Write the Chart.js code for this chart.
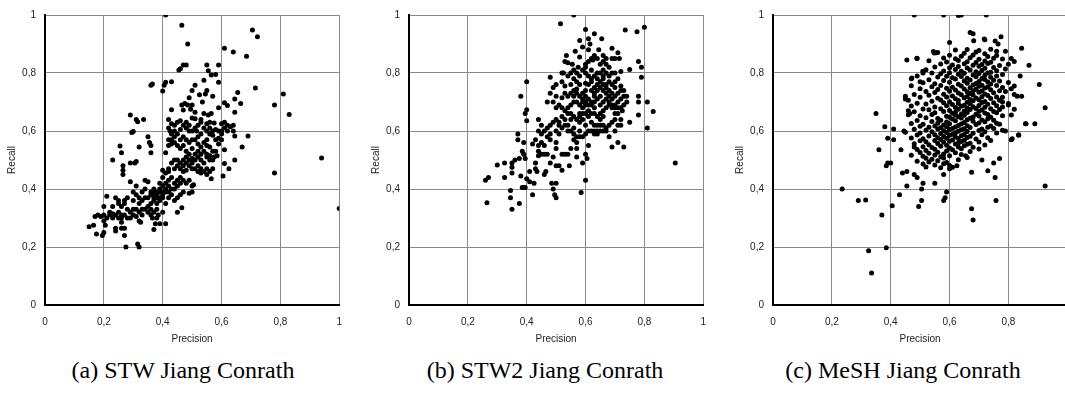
<!DOCTYPE html>
<html>
<head>
<meta charset="utf-8">
<script src="https://cdn.jsdelivr.net/npm/chart.js@4/dist/chart.umd.min.js"></script>
<style>
  html, body { margin: 0; padding: 0; background: #fff; width: 1065px; height: 398px; overflow: hidden; }
  .panel { position: absolute; top: 0; width: 353px; height: 345px; }
  .caption {
    position: absolute; top: 358px; width: 400px; text-align: center; line-height: 1;
    font-family: "Liberation Serif", "Times New Roman", serif; font-size: 24px; color: #000;
    white-space: nowrap;
  }
</style>
</head>
<body>
<div class="panel" style="left:0px"><canvas id="stwChart" width="353" height="345"></canvas></div>
<div class="panel" style="left:364px"><canvas id="stw2Chart" width="353" height="345"></canvas></div>
<div class="panel" style="left:728px"><canvas id="meshChart" width="353" height="345"></canvas></div>
<div class="caption" style="left:-17px">(a)&nbsp;STW Jiang Conrath</div>
<div class="caption" style="left:345px">(b)&nbsp;STW2 Jiang Conrath</div>
<div class="caption" style="left:703px">(c)&nbsp;MeSH Jiang Conrath</div>
<script>
// axis ticks (precision on x, recall on y)
const tickValues = [0, 0.2, 0.4, 0.6, 0.8, 1];
const xTitle = 'Precision';
const yTitle = 'Recall';

// (a) STW Jiang Conrath  -- [precision, recall]
const stwPoints = [
  [0.41,1.0],[0.465,0.965],[0.485,0.9],[0.705,0.948],[0.722,0.925],[0.61,0.885],[0.64,0.872],[0.685,0.858],
  [0.455,0.81],[0.46,0.815],[0.47,0.828],[0.48,0.828],[0.55,0.828],[0.59,0.828],[0.555,0.808],[0.565,0.793],
  [0.58,0.795],[0.59,0.768],[0.54,0.775],[0.51,0.758],[0.43,0.77],[0.41,0.768],[0.405,0.758],[0.4,0.738],
  [0.36,0.758],[0.365,0.762],[0.715,0.748],[0.81,0.728],[0.78,0.69],[0.83,0.657],[0.655,0.733],[0.645,0.71],
  [0.665,0.695],[0.61,0.697],[0.62,0.688],[0.645,0.665],[0.59,0.68],[0.57,0.72],[0.55,0.74],[0.545,0.728],
  [0.525,0.725],[0.5,0.74],[0.49,0.715],[0.465,0.69],[0.475,0.695],[0.485,0.69],[0.5,0.69],[0.47,0.672],
  [0.495,0.675],[0.51,0.665],[0.535,0.7],[0.43,0.673],[0.29,0.655],[0.31,0.64],[0.315,0.632],[0.335,0.64],
  [0.54,0.66],[0.555,0.655],[0.565,0.66],[0.5,0.645],[0.51,0.642],[0.52,0.62],[0.53,0.64],[0.55,0.625],
  [0.56,0.63],[0.575,0.628],[0.58,0.605],[0.6,0.625],[0.61,0.63],[0.62,0.62],[0.63,0.615],[0.64,0.62],
  [0.64,0.6],[0.645,0.583],[0.69,0.583],[0.42,0.64],[0.43,0.625],[0.44,0.62],[0.45,0.63],[0.46,0.635],
  [0.42,0.61],[0.425,0.6],[0.44,0.6],[0.46,0.605],[0.48,0.61],[0.49,0.6],[0.5,0.6],[0.515,0.6],
  [0.54,0.61],[0.56,0.59],[0.57,0.585],[0.59,0.6],[0.6,0.59],[0.3,0.598],[0.295,0.595],[0.35,0.58],
  [0.355,0.56],[0.36,0.55],[0.255,0.548],[0.32,0.545],[0.26,0.525],[0.36,0.525],[0.41,0.525],[0.42,0.55],
  [0.43,0.555],[0.44,0.56],[0.43,0.57],[0.45,0.55],[0.46,0.54],[0.47,0.55],[0.48,0.53],[0.5,0.54],
  [0.52,0.555],[0.53,0.545],[0.55,0.55],[0.56,0.545],[0.57,0.53],[0.59,0.555],[0.59,0.575],[0.67,0.545],
  [0.61,0.535],[0.23,0.5],[0.265,0.48],[0.265,0.465],[0.265,0.45],[0.29,0.49],[0.31,0.495],[0.305,0.49],
  [0.47,0.5],[0.48,0.51],[0.49,0.52],[0.5,0.505],[0.51,0.5],[0.52,0.51],[0.53,0.5],[0.54,0.49],
  [0.55,0.51],[0.56,0.515],[0.575,0.51],[0.585,0.515],[0.645,0.5],[0.625,0.47],[0.61,0.488],[0.605,0.445],
  [0.565,0.435],[0.55,0.45],[0.55,0.47],[0.53,0.455],[0.52,0.48],[0.5,0.47],[0.49,0.48],[0.48,0.465],
  [0.47,0.46],[0.46,0.47],[0.45,0.48],[0.44,0.47],[0.42,0.46],[0.41,0.455],[0.4,0.465],[0.4,0.44],
  [0.42,0.43],[0.43,0.44],[0.44,0.42],[0.45,0.43],[0.46,0.44],[0.47,0.43],[0.48,0.42],[0.49,0.43],
  [0.5,0.41],[0.505,0.415],[0.5,0.39],[0.49,0.385],[0.47,0.39],[0.46,0.38],[0.45,0.37],[0.44,0.36],
  [0.45,0.32],[0.465,0.335],[0.43,0.38],[0.42,0.39],[0.41,0.4],[0.4,0.39],[0.39,0.4],[0.38,0.38],
  [0.37,0.385],[0.36,0.38],[0.35,0.37],[0.34,0.37],[0.33,0.36],[0.32,0.35],[0.34,0.43],[0.35,0.425],
  [0.29,0.425],[0.3,0.39],[0.31,0.38],[0.28,0.37],[0.27,0.36],[0.26,0.34],[0.25,0.36],[0.24,0.37],
  [0.21,0.375],[0.2,0.34],[0.22,0.32],[0.23,0.315],[0.24,0.31],[0.25,0.32],[0.26,0.31],[0.2,0.31],
  [0.19,0.305],[0.18,0.31],[0.17,0.305],[0.165,0.275],[0.15,0.27],[0.175,0.245],[0.195,0.24],[0.2,0.25],
  [0.205,0.275],[0.24,0.265],[0.24,0.255],[0.26,0.265],[0.27,0.265],[0.27,0.24],[0.275,0.2],[0.315,0.21],
  [0.32,0.2],[0.26,0.285],[0.28,0.3],[0.29,0.32],[0.3,0.33],[0.31,0.305],[0.32,0.29],[0.325,0.285],
  [0.33,0.31],[0.34,0.33],[0.35,0.32],[0.36,0.31],[0.365,0.3],[0.37,0.26],[0.375,0.28],[0.38,0.3],
  [0.385,0.31],[0.39,0.28],[0.4,0.32],[0.41,0.28],[0.41,0.35],[0.42,0.37],[0.38,0.35],[0.37,0.36],
  [0.36,0.35],[0.39,0.37],[0.4,0.37],[0.4,0.41],[0.41,0.42],[0.39,0.42],[0.38,0.39],[0.37,0.4],
  [0.94,0.507],[0.78,0.455],[1.0,0.333],
  [0.36,0.39],[0.37,0.37],[0.38,0.37],[0.39,0.39],[0.4,0.38],[0.41,0.39],[0.42,0.41],[0.43,0.4],
  [0.44,0.4],[0.45,0.41],[0.46,0.42],[0.39,0.36],[0.38,0.33],[0.37,0.32],[0.36,0.33],[0.35,0.34],
  [0.33,0.33],[0.32,0.32],[0.31,0.33],[0.3,0.31],[0.29,0.3],[0.28,0.33],[0.27,0.31],[0.26,0.3],
  [0.25,0.3],[0.23,0.3],[0.22,0.31],[0.21,0.3],[0.2,0.29],[0.23,0.34],[0.25,0.35],[0.27,0.35],
  [0.3,0.36],[0.32,0.37],[0.33,0.39],[0.34,0.4],[0.31,0.41],[0.42,0.47],[0.43,0.49],[0.44,0.5],
  [0.45,0.5],[0.46,0.49],[0.47,0.48],[0.48,0.49],[0.49,0.5],[0.5,0.49],[0.51,0.52],[0.52,0.53],
  [0.53,0.52],[0.54,0.53],[0.55,0.52],[0.56,0.5],[0.57,0.5],[0.58,0.53],[0.58,0.57],[0.57,0.6],
  [0.56,0.61],[0.53,0.59],[0.52,0.58],[0.51,0.57],[0.5,0.57],[0.49,0.56],[0.48,0.57],[0.47,0.58],
  [0.46,0.57],[0.45,0.59],[0.44,0.58],[0.43,0.59],[0.42,0.57],[0.47,0.62],[0.48,0.63],[0.49,0.62],
  [0.51,0.61],[0.53,0.63],[0.55,0.6],[0.6,0.6],[0.61,0.61],[0.6,0.57],[0.62,0.6],[0.55,0.57],
  [0.54,0.56],[0.51,0.47],[0.52,0.46],[0.53,0.47],[0.54,0.46],[0.56,0.46],[0.57,0.47]
];

// (b) STW2 Jiang Conrath
const stw2Points = [
  [0.56,1.0],[0.515,0.97],[0.6,0.95],[0.8,0.958],[0.735,0.948],[0.775,0.942],[0.63,0.935],[0.655,0.918],
  [0.61,0.918],[0.615,0.9],[0.58,0.912],[0.59,0.89],[0.61,0.88],[0.645,0.88],[0.66,0.86],[0.69,0.885],
  [0.71,0.87],[0.7,0.85],[0.715,0.85],[0.78,0.84],[0.79,0.82],[0.75,0.812],[0.69,0.85],[0.64,0.85],
  [0.625,0.845],[0.6,0.83],[0.58,0.855],[0.565,0.875],[0.535,0.86],[0.53,0.84],[0.54,0.835],[0.555,0.83],
  [0.575,0.82],[0.6,0.82],[0.62,0.81],[0.64,0.8],[0.66,0.81],[0.67,0.83],[0.68,0.82],[0.69,0.8],
  [0.7,0.8],[0.72,0.805],[0.79,0.785],[0.52,0.8],[0.525,0.8],[0.48,0.785],[0.5,0.76],[0.49,0.75],
  [0.52,0.77],[0.53,0.755],[0.55,0.76],[0.56,0.78],[0.57,0.77],[0.58,0.76],[0.6,0.765],[0.61,0.76],
  [0.62,0.77],[0.63,0.75],[0.64,0.76],[0.65,0.77],[0.66,0.78],[0.67,0.76],[0.68,0.77],[0.69,0.76],
  [0.7,0.75],[0.72,0.755],[0.73,0.72],[0.74,0.7],[0.78,0.72],[0.78,0.7],[0.81,0.7],[0.83,0.667],
  [0.78,0.655],[0.81,0.61],[0.75,0.63],[0.73,0.545],[0.71,0.56],[0.69,0.545],[0.7,0.6],[0.72,0.64],
  [0.725,0.67],[0.71,0.68],[0.7,0.69],[0.69,0.71],[0.68,0.72],[0.67,0.73],[0.66,0.74],[0.65,0.72],
  [0.64,0.71],[0.63,0.72],[0.62,0.7],[0.61,0.71],[0.6,0.72],[0.59,0.7],[0.58,0.69],[0.57,0.7],
  [0.56,0.72],[0.55,0.73],[0.54,0.72],[0.53,0.73],[0.52,0.715],[0.5,0.72],[0.49,0.7],[0.47,0.7],
  [0.48,0.73],[0.38,0.72],[0.4,0.77],[0.4,0.673],[0.395,0.66],[0.4,0.635],[0.37,0.59],[0.37,0.57],
  [0.39,0.56],[0.385,0.53],[0.39,0.52],[0.395,0.505],[0.375,0.505],[0.36,0.5],[0.35,0.49],[0.35,0.475],
  [0.35,0.455],[0.325,0.49],[0.3,0.483],[0.325,0.44],[0.27,0.44],[0.26,0.43],[0.265,0.353],[0.345,0.395],
  [0.345,0.37],[0.35,0.33],[0.375,0.35],[0.39,0.405],[0.395,0.405],[0.385,0.405],[0.38,0.445],[0.4,0.435],
  [0.41,0.425],[0.41,0.46],[0.42,0.38],[0.425,0.42],[0.43,0.47],[0.435,0.46],[0.43,0.49],[0.44,0.515],
  [0.44,0.53],[0.42,0.555],[0.43,0.57],[0.44,0.6],[0.44,0.64],[0.45,0.62],[0.45,0.56],[0.46,0.55],
  [0.46,0.45],[0.465,0.46],[0.47,0.52],[0.47,0.58],[0.48,0.59],[0.48,0.57],[0.48,0.49],[0.485,0.42],
  [0.49,0.4],[0.5,0.42],[0.495,0.38],[0.5,0.37],[0.49,0.51],[0.5,0.48],[0.51,0.48],[0.52,0.465],
  [0.53,0.52],[0.5,0.54],[0.5,0.56],[0.51,0.59],[0.5,0.6],[0.49,0.63],[0.5,0.64],[0.51,0.63],
  [0.52,0.65],[0.53,0.64],[0.54,0.66],[0.54,0.62],[0.55,0.64],[0.55,0.6],[0.56,0.61],[0.56,0.57],
  [0.57,0.56],[0.58,0.6],[0.58,0.63],[0.59,0.64],[0.6,0.62],[0.6,0.66],[0.61,0.65],[0.62,0.66],
  [0.62,0.63],[0.63,0.62],[0.64,0.6],[0.64,0.59],[0.65,0.6],[0.66,0.62],[0.67,0.61],[0.68,0.58],
  [0.67,0.6],[0.63,0.59],[0.61,0.55],[0.605,0.505],[0.6,0.52],[0.59,0.49],[0.57,0.51],[0.6,0.43],
  [0.585,0.388],[0.545,0.48],[0.54,0.52],[0.52,0.52],[0.905,0.49],[0.55,0.54],[0.57,0.54],[0.58,0.66],
  [0.59,0.68],[0.6,0.69],[0.61,0.67],[0.63,0.68],[0.65,0.66],[0.66,0.67],[0.67,0.68],[0.68,0.69],
  [0.69,0.68],[0.7,0.66],[0.71,0.7],[0.72,0.71],[0.66,0.65],[0.65,0.64],[0.64,0.65],[0.63,0.66],
  [0.6,0.74],[0.59,0.73],[0.57,0.745],[0.56,0.74],[0.45,0.59],[0.46,0.6],[0.47,0.61],[0.48,0.62],
  [0.46,0.52],[0.45,0.52],[0.44,0.55],
  [0.62,0.74],[0.63,0.73],[0.64,0.74],[0.65,0.75],[0.66,0.76],[0.67,0.75],[0.68,0.74],[0.69,0.73],
  [0.7,0.72],[0.71,0.73],[0.72,0.74],[0.73,0.74],[0.7,0.77],[0.71,0.78],[0.68,0.79],[0.67,0.8],
  [0.66,0.79],[0.65,0.8],[0.64,0.78],[0.63,0.79],[0.62,0.78],[0.61,0.79],[0.6,0.8],[0.59,0.81],
  [0.58,0.79],[0.57,0.8],[0.56,0.81],[0.55,0.8],[0.54,0.79],[0.65,0.83],[0.66,0.84],[0.67,0.85],
  [0.63,0.86],[0.62,0.85],[0.61,0.84],[0.65,0.69],[0.66,0.7],[0.67,0.71],[0.68,0.7],[0.69,0.69],
  [0.7,0.68],[0.71,0.66],[0.72,0.68],[0.73,0.69],[0.74,0.72],[0.63,0.7],[0.62,0.69],[0.61,0.69],
  [0.6,0.7],[0.59,0.71],[0.58,0.72],[0.57,0.73],[0.56,0.7],[0.55,0.69],[0.54,0.68],[0.53,0.67],
  [0.52,0.68],[0.51,0.69],[0.5,0.68],[0.55,0.66],[0.56,0.65],[0.57,0.64],[0.58,0.65],[0.59,0.66],
  [0.53,0.62],[0.52,0.61],[0.51,0.62],[0.54,0.6],[0.56,0.59],[0.57,0.58],[0.58,0.58],[0.59,0.58],
  [0.6,0.59],[0.61,0.6],[0.62,0.6],[0.63,0.6],[0.64,0.62],[0.65,0.62],[0.66,0.6],[0.68,0.62],
  [0.69,0.63],[0.7,0.64],[0.71,0.62],[0.72,0.62]
];

// (c) MeSH Jiang Conrath
const meshPoints = [
  [0.48,1.0],[0.58,1.0],[0.63,0.998],[0.64,1.0],[0.725,1.0],[0.235,0.4],[0.29,0.36],[0.315,0.362],
  [0.325,0.187],[0.335,0.11],[0.37,0.31],[0.385,0.197],[0.35,0.66],[0.36,0.535],[0.38,0.615],[0.385,0.48],
  [0.39,0.575],[0.39,0.49],[0.4,0.49],[0.405,0.342],[0.41,0.57],[0.41,0.607],[0.43,0.38],[0.435,0.535],
  [0.44,0.455],[0.445,0.6],[0.45,0.72],[0.45,0.71],[0.455,0.41],[0.455,0.46],[0.455,0.845],[0.46,0.67],
  [0.465,0.66],[0.47,0.78],[0.48,0.545],[0.48,0.45],[0.49,0.44],[0.495,0.34],[0.49,0.85],[0.5,0.77],
  [0.505,0.4],[0.505,0.36],[0.51,0.42],[0.51,0.8],[0.55,0.42],[0.555,0.87],[0.58,0.36],[0.58,0.45],
  [0.585,0.37],[0.59,0.39],[0.6,0.905],[0.6,0.47],[0.61,0.475],[0.625,0.48],[0.655,0.515],[0.675,0.458],
  [0.675,0.332],[0.68,0.293],[0.71,0.5],[0.73,0.463],[0.75,0.49],[0.755,0.44],[0.758,0.36],[0.77,0.505],
  [0.67,0.94],[0.68,0.935],[0.72,0.915],[0.755,0.91],[0.775,0.925],[0.765,0.9],[0.845,0.885],[0.87,0.827],
  [0.905,0.76],[0.925,0.68],[0.89,0.625],[0.86,0.625],[0.925,0.41],[0.81,0.57],[0.835,0.585],[0.84,0.79],
  [0.82,0.755],[0.845,0.72],[0.83,0.72],[0.82,0.675],[0.81,0.655],[0.79,0.6],[0.8,0.695],[0.78,0.7],
  [0.8,0.83],[0.82,0.84],[0.81,0.85],[0.79,0.875],[0.76,0.875],[0.545,0.874],[0.548,0.869],[0.489,0.851],
  [0.509,0.806],[0.472,0.783],[0.682,0.911],[0.718,0.917],[0.858,0.625],[0.835,0.587],[0.813,0.573],
  [0.66,0.881],[0.7,0.878],[0.74,0.882],[0.62,0.879],
  [0.56,0.871],[0.65,0.868],[0.72,0.866],[0.69,0.872],
  [0.6,0.861],[0.64,0.858],[0.68,0.862],[0.73,0.857],[0.76,0.86],
  [0.58,0.852],[0.62,0.849],[0.67,0.853],[0.7,0.847],[0.75,0.851],[0.78,0.848],
  [0.53,0.842],[0.59,0.838],[0.63,0.843],[0.66,0.839],[0.69,0.836],[0.72,0.841],[0.74,0.837],
  [0.57,0.831],[0.61,0.828],[0.65,0.832],[0.68,0.827],[0.71,0.829],[0.73,0.833],[0.77,0.826],
  [0.55,0.821],[0.6,0.818],[0.63,0.822],[0.66,0.817],[0.7,0.823],[0.72,0.816],[0.75,0.819],[0.79,0.814],
  [0.52,0.811],[0.58,0.807],[0.62,0.812],[0.64,0.806],[0.67,0.81],[0.69,0.804],[0.71,0.809],[0.74,0.803],[0.76,0.808],
  [0.54,0.8],[0.57,0.797],[0.6,0.801],[0.63,0.796],[0.65,0.799],[0.68,0.793],[0.7,0.798],[0.72,0.792],[0.73,0.8],[0.78,0.795],
  [0.49,0.79],[0.56,0.786],[0.59,0.789],[0.61,0.784],[0.64,0.788],[0.66,0.782],[0.69,0.787],[0.71,0.781],[0.74,0.785],[0.76,0.79],
  [0.53,0.777],[0.58,0.774],[0.62,0.779],[0.65,0.772],[0.67,0.776],[0.7,0.771],[0.72,0.778],[0.73,0.769],[0.75,0.775],[0.77,0.772],
  [0.51,0.766],[0.55,0.763],[0.6,0.768],[0.63,0.761],[0.66,0.765],[0.68,0.759],[0.69,0.764],[0.71,0.758],[0.74,0.762],[0.8,0.767],
  [0.47,0.756],[0.54,0.753],[0.57,0.757],[0.61,0.751],[0.64,0.755],[0.67,0.749],[0.7,0.754],[0.72,0.748],[0.73,0.752],[0.76,0.757],[0.78,0.75],
  [0.5,0.746],[0.56,0.743],[0.59,0.747],[0.62,0.741],[0.65,0.745],[0.68,0.739],[0.69,0.744],[0.71,0.738],[0.74,0.742],[0.77,0.739],[0.81,0.746],
  [0.52,0.736],[0.55,0.733],[0.6,0.737],[0.63,0.731],[0.66,0.735],[0.67,0.729],[0.7,0.734],[0.72,0.728],[0.75,0.732],[0.79,0.736],
  [0.48,0.726],[0.53,0.723],[0.58,0.727],[0.61,0.721],[0.64,0.725],[0.66,0.719],[0.68,0.724],[0.71,0.718],[0.73,0.722],[0.76,0.717],[0.82,0.726],
  [0.5,0.716],[0.56,0.713],[0.59,0.717],[0.62,0.711],[0.65,0.715],[0.67,0.709],[0.69,0.714],[0.7,0.708],[0.74,0.712],[0.78,0.716],
  [0.46,0.706],[0.54,0.703],[0.57,0.707],[0.6,0.701],[0.63,0.705],[0.66,0.699],[0.68,0.704],[0.71,0.698],[0.72,0.702],[0.75,0.697],[0.77,0.706],
  [0.49,0.696],[0.52,0.693],[0.58,0.697],[0.61,0.691],[0.63,0.695],[0.65,0.689],[0.67,0.694],[0.7,0.688],[0.73,0.692],[0.76,0.687],[0.8,0.69],
  [0.47,0.686],[0.55,0.683],[0.59,0.687],[0.62,0.681],[0.64,0.685],[0.66,0.679],[0.68,0.684],[0.69,0.678],[0.72,0.682],[0.74,0.677],[0.78,0.683],
  [0.51,0.676],[0.53,0.673],[0.57,0.677],[0.6,0.671],[0.63,0.675],[0.65,0.669],[0.67,0.674],[0.7,0.668],[0.71,0.672],[0.75,0.667],[0.77,0.674],
  [0.48,0.666],[0.55,0.663],[0.58,0.667],[0.61,0.661],[0.62,0.665],[0.64,0.659],[0.66,0.664],[0.69,0.658],[0.72,0.662],[0.73,0.657],[0.76,0.663],
  [0.46,0.656],[0.5,0.653],[0.54,0.657],[0.59,0.651],[0.62,0.655],[0.63,0.649],[0.65,0.654],[0.68,0.648],[0.7,0.652],[0.74,0.647],[0.78,0.653],
  [0.52,0.646],[0.56,0.643],[0.6,0.647],[0.61,0.641],[0.64,0.645],[0.66,0.639],[0.67,0.644],[0.71,0.638],[0.73,0.642],[0.75,0.637],
  [0.49,0.636],[0.54,0.633],[0.57,0.637],[0.59,0.631],[0.62,0.635],[0.65,0.629],[0.68,0.634],[0.7,0.628],[0.72,0.632],[0.76,0.627],
  [0.47,0.626],[0.51,0.623],[0.56,0.627],[0.58,0.621],[0.6,0.625],[0.63,0.619],[0.64,0.624],[0.66,0.618],[0.69,0.622],[0.74,0.617],[0.77,0.623],
  [0.5,0.616],[0.53,0.613],[0.55,0.617],[0.57,0.611],[0.59,0.615],[0.61,0.609],[0.62,0.614],[0.65,0.608],[0.67,0.612],[0.71,0.607],[0.73,0.613],[0.75,0.609],
  [0.48,0.606],[0.52,0.603],[0.56,0.607],[0.58,0.601],[0.6,0.605],[0.63,0.599],[0.64,0.604],[0.66,0.598],[0.7,0.602],[0.72,0.597],[0.78,0.603],
  [0.45,0.596],[0.5,0.593],[0.54,0.597],[0.57,0.591],[0.59,0.595],[0.61,0.589],[0.62,0.594],[0.65,0.588],[0.68,0.592],[0.71,0.587],[0.76,0.593],
  [0.49,0.586],[0.53,0.583],[0.55,0.587],[0.58,0.581],[0.6,0.585],[0.62,0.579],[0.64,0.584],[0.66,0.578],[0.67,0.582],[0.73,0.577],
  [0.47,0.576],[0.51,0.573],[0.56,0.577],[0.57,0.571],[0.59,0.575],[0.61,0.569],[0.63,0.574],[0.65,0.568],[0.69,0.572],[0.74,0.567],
  [0.5,0.566],[0.52,0.563],[0.55,0.567],[0.58,0.561],[0.6,0.565],[0.63,0.559],[0.64,0.564],[0.67,0.558],[0.7,0.562],
  [0.48,0.556],[0.53,0.553],[0.56,0.557],[0.59,0.551],[0.62,0.555],[0.65,0.549],[0.66,0.554],[0.72,0.552],
  [0.51,0.546],[0.54,0.543],[0.57,0.547],[0.6,0.541],[0.63,0.545],[0.64,0.539],[0.68,0.544],
  [0.49,0.536],[0.52,0.533],[0.55,0.537],[0.59,0.531],[0.61,0.535],[0.67,0.529],[0.7,0.538],
  [0.5,0.526],[0.53,0.523],[0.56,0.527],[0.58,0.521],[0.62,0.525],[0.64,0.519],
  [0.47,0.516],[0.51,0.513],[0.55,0.517],[0.57,0.511],[0.6,0.515],[0.66,0.509],
  [0.52,0.506],[0.54,0.503],[0.58,0.507],[0.63,0.501],
  [0.49,0.496],[0.53,0.493],[0.56,0.497],[0.59,0.491],
  [0.51,0.486],[0.55,0.483],[0.58,0.487],[0.6,0.481],
  [0.52,0.476],[0.57,0.473]
];

// x-axis on the reference runs past the right edge for panel (c); the page simply clips it
function fmtTick(v) {
  return String(Number(v.toFixed(1))).replace('.', ',');
}

function makePanel(canvasId, points) {
  const ctx = document.getElementById(canvasId);
  const data = points.map(p => ({ x: p[0], y: p[1] }));
  const tickFont = { family: "'Liberation Sans', Arial, sans-serif", size: 10 };
  const gridStyle = { color: '#8a8a8a', lineWidth: 1, drawTicks: false };
  const borderStyle = { display: true, color: '#000', width: 2 };

  return new Chart(ctx, {
    type: 'scatter',
    data: {
      datasets: [{
        data,
        backgroundColor: '#000',
        borderWidth: 0,
        pointRadius: 2.5,
        pointHoverRadius: 2.5,
        clip: 0
      }]
    },
    options: {
      responsive: false,
      animation: false,
      devicePixelRatio: 1,
      layout: { padding: { top: 10, right: 10, left: 0, bottom: 0 } },
      plugins: { legend: { display: false }, tooltip: { enabled: false } },
      scales: {
        x: {
          type: 'linear', min: 0, max: 1,
          afterBuildTicks: s => { s.ticks = tickValues.map(v => ({ value: v })); },
          afterFit: s => { s.height = 40; },
          grid: gridStyle, border: borderStyle,
          ticks: { font: tickFont, color: '#222', padding: 11, maxRotation: 0, callback: fmtTick },
          title: { display: true, text: xTitle, color: '#222', font: tickFont, padding: { top: 0, bottom: 0 } }
        },
        y: {
          type: 'linear', min: 0, max: 1,
          afterBuildTicks: s => { s.ticks = tickValues.map(v => ({ value: v })); },
          afterFit: s => { s.width = 45; },
          grid: gridStyle, border: borderStyle,
          ticks: { font: tickFont, color: '#222', padding: 9, callback: fmtTick },
          title: { display: true, text: yTitle, color: '#222', font: tickFont, padding: { top: 6, bottom: 0 } }
        }
      }
    }
  });
}

makePanel('stwChart', stwPoints);
makePanel('stw2Chart', stw2Points);
makePanel('meshChart', meshPoints);
</script>
</body>
</html>
